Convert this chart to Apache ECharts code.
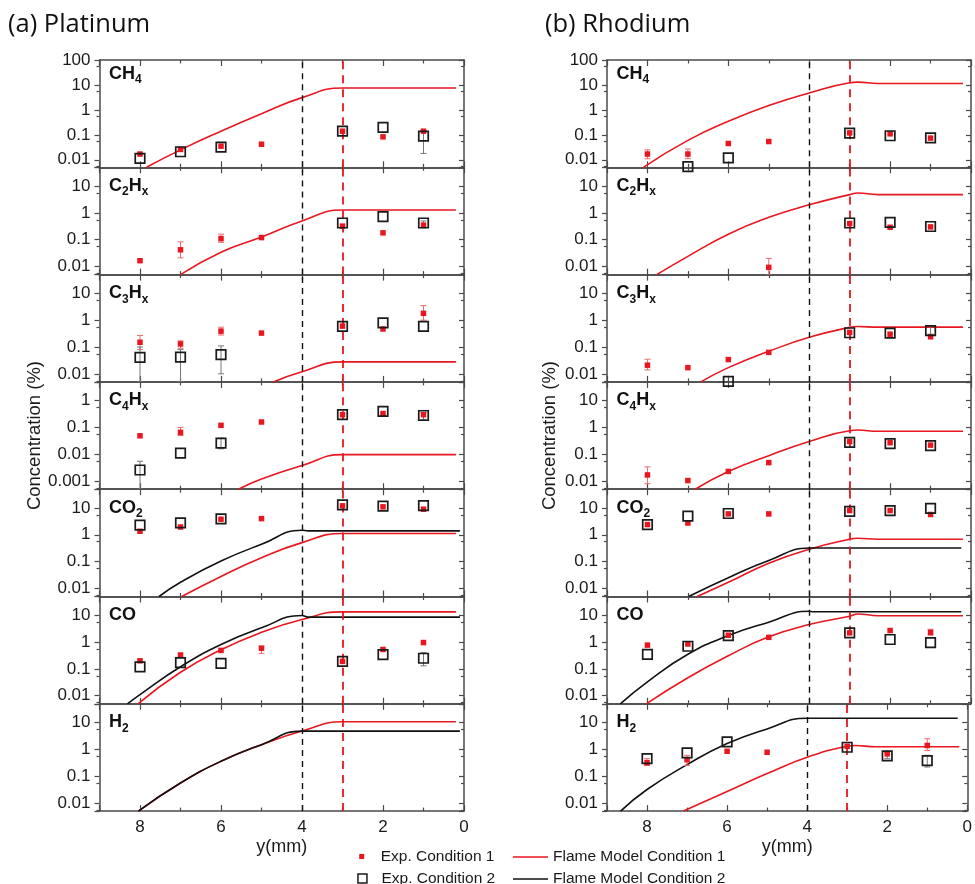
<!DOCTYPE html>
<html><head><meta charset="utf-8">
<script src="https://cdn.jsdelivr.net/npm/echarts@6/dist/echarts.min.js"></script>
<style>html,body{margin:0;padding:0;background:#fff}#c{width:975px;height:884px}</style>
</head><body><div id="c"></div>
<script>
// ---------------- DATA ----------------
const species = ['CH4', 'C2Hx', 'C3Hx', 'C4Hx', 'CO2', 'CO', 'H2'];
const speciesRich = ['{b|CH}{s|4}', '{b|C}{s|2}{b|H}{s|x}', '{b|C}{s|3}{b|H}{s|x}', '{b|C}{s|4}{b|H}{s|x}', '{b|CO}{s|2}', '{b|CO}', '{b|H}{s|2}'];
const metalTitles = ['(a) Platinum', '(b) Rhodium'];
const xPos = [8, 7, 6, 5, 3, 2, 1];           // measurement heights y (mm)
const xMin = 0, xMax = 9, xInterval = 2;
const flameEdge2 = 4, flameEdge1 = 3;          // dashed reference lines (mm)

const ptYRange = [[0.005, 100], [0.005, 50], [0.005, 50], [0.0005, 5], [0.005, 50], [0.005, 50], [0.005, 50]];
const rhYRange = [[0.005, 100], [0.005, 50], [0.005, 50], [0.005, 50], [0.005, 50], [0.005, 50], [0.005, 50]];

// Exp. condition 1 / 2 values at xPos (null = no point)
const ptExp1 = [
  [0.017, 0.026, 0.035, 0.042, 0.14, 0.083, 0.14],
  [0.0165, 0.042, 0.11, 0.12, 0.32, 0.18, 0.35],
  [0.15, 0.13, 0.39, 0.33, 0.6, 0.47, 1.8],
  [0.049, 0.066, 0.12, 0.16, 0.3, 0.33, 0.3],
  [1.35, 1.95, 3.8, 4.0, 12, 11, 9.0],
  [0.2, 0.33, 0.49, 0.59, 0.19, 0.53, 0.96],
  [null, null, null, null, null, null, null]
];
const ptExp2 = [
  [0.0115, 0.021, 0.032, null, 0.14, 0.2, 0.089],
  [null, null, null, null, 0.42, 0.72, 0.42],
  [0.041, 0.042, 0.052, null, 0.59, 0.79, 0.59],
  [0.0026, 0.011, 0.026, null, 0.30, 0.40, 0.28],
  [2.3, 2.8, 3.9, null, 13, 11.6, 12.3],
  [0.12, 0.17, 0.16, null, 0.19, 0.34, 0.25],
  [null, null, null, null, null, null, null]
];
const rhExp1 = [
  [0.017, 0.017, 0.045, 0.054, 0.12, 0.11, 0.074],
  [null, null, null, 0.0093, 0.4, 0.29, 0.3],
  [0.021, 0.017, 0.034, 0.063, 0.35, 0.3, 0.24],
  [0.017, 0.0105, 0.023, 0.049, 0.3, 0.27, 0.22],
  [2.4, 2.75, 6.0, 6.0, 8.0, 8.0, 5.7],
  [0.77, 0.85, 1.8, 1.5, 2.2, 2.7, 2.3],
  [0.32, 0.41, 0.85, 0.78, 1.3, 0.68, 1.4]
];
const rhExp2 = [
  [null, 0.0053, 0.012, null, 0.117, 0.092, 0.075],
  [null, null, null, null, 0.42, 0.44, 0.31],
  [null, null, 0.0052, null, 0.34, 0.33, 0.41],
  [null, null, null, null, 0.28, 0.25, 0.21],
  [2.4, 5.0, 6.2, null, 7.5, 8.0, 9.7],
  [0.35, 0.7, 1.75, null, 2.2, 1.25, 0.96],
  [0.45, 0.74, 1.9, null, 1.2, 0.57, 0.38]
];

// Flame model curves [y(mm), concentration]
const ptModel1 = [
  [[7.84, 0.005], [7, 0.025], [6, 0.14], [5, 0.7], [4, 3.1], [3, 7.5], [2.9, 7.5], [0.2, 7.5]],
  [[7, 0.005], [6, 0.034], [5, 0.125], [4, 0.5], [3, 1.28], [2.9, 1.28], [0.2, 1.28]],
  [[4.71, 0.005], [4, 0.012], [3, 0.028], [2.9, 0.028], [0.2, 0.028]],
  [[5.57, 0.0005], [5, 0.0012], [4, 0.0038], [3, 0.0097], [2.9, 0.0097], [0.2, 0.0097]],
  [[6.97, 0.005], [6, 0.028], [5, 0.14], [4, 0.51], [3, 1.12], [2.9, 1.12], [0.2, 1.12]],
  [[8.05, 0.005], [7, 0.075], [6, 0.52], [5, 2.3], [4, 6.9], [3, 13.4], [2.9, 13.4], [0.2, 13.4]],
  [[8.04, 0.005], [7, 0.056], [6, 0.36], [5, 1.5], [4, 4.8], [3, 10.7], [2.9, 10.7], [0.2, 10.7]]
];
const ptModel2 = [
  null, null, null, null,
  [[7.53, 0.005], [7, 0.017], [6, 0.105], [5, 0.44], [4, 1.48], [3.85, 1.4], [3.75, 1.4], [0.1, 1.4]],
  [[8.31, 0.005], [8, 0.011], [7, 0.12], [6, 0.81], [5, 3.4], [4, 9.8], [3.85, 8.5], [3.75, 8.5], [0.1, 8.5]],
  [[8.04, 0.005], [7, 0.056], [6, 0.36], [5, 1.5], [4, 4.8], [3.9, 4.8], [0.1, 4.8]]
];
const rhModel1 = [
  [[8.1, 0.005], [7, 0.06], [6, 0.35], [5, 1.5], [4, 4.8], [3, 12.2], [2.8, 13], [2.3, 11.5], [2.1, 11.5], [0.2, 11.5]],
  [[7.77, 0.005], [7, 0.024], [6, 0.16], [5, 0.68], [4, 2.0], [3, 4.8], [2.8, 5.5], [2.3, 4.8], [2.1, 4.8], [0.2, 4.8]],
  [[6.68, 0.005], [6, 0.017], [5, 0.069], [4, 0.23], [3, 0.54], [2.8, 0.58], [2.3, 0.55], [2.1, 0.55], [0.2, 0.55]],
  [[6.82, 0.005], [6, 0.023], [5, 0.089], [4, 0.3], [3, 0.76], [2.8, 0.8], [2.3, 0.72], [2.1, 0.72], [0.2, 0.72]],
  [[6.77, 0.005], [6, 0.017], [5, 0.087], [4, 0.29], [3, 0.68], [2.8, 0.74], [2.3, 0.68], [2.1, 0.68], [0.2, 0.68]],
  [[8.03, 0.005], [7, 0.047], [6, 0.31], [5, 1.57], [4, 4.5], [3, 9.2], [2.8, 11.2], [2.3, 9.6], [2.1, 9.6], [0.2, 9.6]],
  [[7.09, 0.005], [6, 0.027], [5, 0.125], [4, 0.51], [3, 1.31], [2.8, 1.4], [2.3, 1.25], [2.1, 1.25], [0.2, 1.25]]
];
const rhModel2 = [
  null, null, null, null,
  [[6.98, 0.005], [6, 0.025], [5, 0.11], [4, 0.32], [3.9, 0.32], [0.24, 0.32]],
  [[8.67, 0.005], [8, 0.033], [7, 0.35], [6, 1.75], [5, 5.5], [4, 14.1], [3.9, 13.5], [0.24, 13.5]],
  [[8.66, 0.005], [8, 0.032], [7, 0.27], [6, 1.65], [5, 5.8], [4, 14.5], [3.9, 14.5], [0.24, 14.5]]
];

// Error bars [y(mm), low, high]
const ptErr1 = [
  [], [[7, 0.021, 0.083], [6, 0.08, 0.16]],
  [[8, 0.08, 0.27], [7, 0.09, 0.17], [6, 0.28, 0.55], [1, 1.0, 3.5]],
  [[7, 0.05, 0.1]], [], [[5, 0.38, 0.7]], []
];
const ptErr2 = [
  [[1, 0.018, 0.15]], [[1, 0.28, 0.5]],
  [[8, 0.005, 0.1], [7, 0.005, 0.08], [6, 0.01, 0.11]],
  [[8, 0.0005, 0.0055], [6, 0.016, 0.04], [1, 0.2, 0.35]], [], [[1, 0.13, 0.4]], []
];
const rhErr1 = [
  [[8, 0.011, 0.025], [7, 0.011, 0.027]], [[5, 0.005, 0.02]], [[8, 0.014, 0.035]],
  [[8, 0.008, 0.034]], [], [[1, 1.8, 3.0]], [[8, 0.25, 0.45], [7, 0.25, 0.6], [1, 0.9, 2.5]]
];
const rhErr2 = [
  [], [], [[1, 0.3, 0.6]], [], [], [], [[1, 0.22, 0.6], [2, 0.45, 0.75]]
];

// ---------------- BUILD ----------------
const metals = [
  { yr: ptYRange, e1: ptExp1, e2: ptExp2, m1: ptModel1, m2: ptModel2, er1: ptErr1, er2: ptErr2 },
  { yr: rhYRange, e1: rhExp1, e2: rhExp2, m1: rhModel1, m2: rhModel2, er1: rhErr1, er2: rhErr2 }
];
const FONT = 'Liberation Sans';
const RED = '#e8161f', BLACK = '#111111', AXIS = '#4a4a4a', TXT = '#1a1a1a';
const gridLeft = [99.5, 607], gridWidth = [364.5, 364];
const top0 = 60, panelH = 107.3;

function logLabel(v) {
  const l = Math.log10(v), r = Math.round(l);
  if (Math.abs(l - r) > 1e-6) return '';
  return r >= 0 ? String(Math.pow(10, r)) : Math.pow(10, r).toFixed(-r);
}
function errRender(color) {
  return function (params, api) {
    const x = api.value(0);
    const a = api.coord([x, api.value(1)]);
    const b = api.coord([x, api.value(2)]);
    const w = 3, st = { stroke: color, lineWidth: 1 };
    return { type: 'group', children: [
      { type: 'line', shape: { x1: a[0], y1: a[1], x2: b[0], y2: b[1] }, style: st },
      { type: 'line', shape: { x1: a[0] - w, y1: a[1], x2: a[0] + w, y2: a[1] }, style: st },
      { type: 'line', shape: { x1: b[0] - w, y1: b[1], x2: b[0] + w, y2: b[1] }, style: st }
    ] };
  };
}
const pts = (vals) => xPos.map((x, i) => [x, vals[i]]).filter(p => p[1] != null);

const grids = [], xAxes = [], yAxes = [], series = [], titles = [];
metalTitles.forEach((t, c) => {
  titles.push({ text: t, left: c === 0 ? 8 : 545, top: 12, padding: 0,
    textStyle: { fontFamily: 'Open Sans', fontSize: 25.5, fontWeight: 'normal', color: '#111' } });
});
const richStyle = {
  b: { fontSize: 18, fontWeight: 'bold', fontFamily: FONT, color: '#111', lineHeight: 20, verticalAlign: 'top' },
  s: { fontSize: 12, fontWeight: 'bold', fontFamily: FONT, color: '#111', lineHeight: 14, padding: [9, 0, 0, 0], verticalAlign: 'top' }
};
const tickLine = { color: AXIS, width: 1.2 };

metals.forEach((m, c) => {
  for (let r = 0; r < 7; r++) {
    const gi = c * 7 + r;
    const top = top0 + r * panelH;
    grids.push({ left: gridLeft[c], top: top, width: gridWidth[c], height: panelH });
    const xBase = {
      gridIndex: gi, type: 'value', min: xMin, max: xMax, interval: xInterval, inverse: true,
      axisLine: { show: true, onZero: false, lineStyle: { color: AXIS, width: 1.5 } },
      axisTick: { show: true, inside: true, length: 6, lineStyle: tickLine },
      minorTick: { show: true, splitNumber: 2, length: 3.5, lineStyle: tickLine },
      splitLine: { show: false }
    };
    xAxes.push(Object.assign({}, xBase, {
      position: 'bottom',
      axisLabel: { show: r === 6, fontFamily: FONT, fontSize: 17, color: TXT, margin: 8,
        formatter: v => (v % 2 === 0 ? String(v) : '') },
      name: r === 6 ? 'y(mm)' : '', nameLocation: 'middle', nameGap: 27,
      nameTextStyle: { fontFamily: FONT, fontSize: 18, color: TXT }
    }));
    xAxes.push(Object.assign({}, xBase, { position: 'top', axisLabel: { show: false } }));
    const yr = m.yr[r];
    const yBase = {
      gridIndex: gi, type: 'log', logBase: 10, min: yr[0], max: yr[1],
      axisLine: { show: true, onZero: false, lineStyle: { color: AXIS, width: 1.5 } },
      splitLine: { show: false }
    };
    yAxes.push(Object.assign({}, yBase, {
      position: 'left',
      axisTick: { show: true, inside: false, length: 5, lineStyle: tickLine },
      minorTick: { show: true, splitNumber: 2, length: 3, lineStyle: tickLine },
      axisLabel: { fontFamily: FONT, fontSize: 17, color: TXT, margin: 9, formatter: logLabel },
      name: r === 3 ? 'Concentration (%)' : '', nameLocation: 'middle', nameGap: c === 0 ? 55 : 47.5,
      nameTextStyle: { fontFamily: FONT, fontSize: 18.5, color: TXT }
    }));
    yAxes.push(Object.assign({}, yBase, {
      position: 'right',
      axisTick: { show: true, inside: true, length: 5, lineStyle: tickLine },
      minorTick: { show: true, splitNumber: 2, length: 3, lineStyle: tickLine },
      axisLabel: { show: false }
    }));
    const ax = { xAxisIndex: gi * 2, yAxisIndex: gi * 2 };
    // model 1 (carries dashed reference lines)
    series.push(Object.assign({
      type: 'line', name: 'Flame Model Condition 1', data: m.m1[r], symbol: 'none', smooth: 0.5,
      lineStyle: { color: RED, width: 1.6 }, itemStyle: { color: RED }, clip: true, z: 2,
      markLine: { silent: true, symbol: 'none', label: { show: false }, animation: false,
        data: [
          { xAxis: flameEdge2, lineStyle: { color: BLACK, width: 1.4, type: [6, 5] } },
          { xAxis: flameEdge1, lineStyle: { color: RED, width: 1.8, type: [8, 6] } }
        ] }
    }, ax));
    if (m.m2[r]) series.push(Object.assign({
      type: 'line', name: 'Flame Model Condition 2', data: m.m2[r], symbol: 'none', smooth: 0.5,
      lineStyle: { color: BLACK, width: 1.6 }, itemStyle: { color: BLACK }, clip: true, z: 2
    }, ax));
    if (m.er1[r].length) series.push(Object.assign({
      type: 'custom', name: 'err1', data: m.er1[r], renderItem: errRender('#ec6b70'), clip: true, z: 3,
      encode: { x: 0, y: [1, 2] }
    }, ax));
    if (m.er2[r].length) series.push(Object.assign({
      type: 'custom', name: 'err2', data: m.er2[r], renderItem: errRender('#777777'), clip: true, z: 3,
      encode: { x: 0, y: [1, 2] }
    }, ax));
    series.push(Object.assign({
      type: 'scatter', name: 'Exp. Condition 1', data: pts(m.e1[r]), symbol: 'rect', symbolSize: 5.5,
      itemStyle: { color: RED, opacity: 1 }, z: 4
    }, ax));
    series.push(Object.assign({
      type: 'scatter', name: 'Exp. Condition 2', data: pts(m.e2[r]), symbol: 'rect', symbolSize: 9.5,
      itemStyle: { color: 'rgba(255,255,255,0)', borderColor: '#1a1a1a', borderWidth: 1.7, opacity: 1 }, z: 5
    }, ax));
    titles.push({ text: speciesRich[r], left: gridLeft[c] + 9.5, top: top + (r === 0 ? 5 : 9.6), padding: 0,
      textStyle: { rich: richStyle } });
  }
});

const legText = { fontFamily: FONT, fontSize: 15.5, color: TXT };
const option = {
  animation: false,
  backgroundColor: '#ffffff',
  title: titles,
  grid: grids, xAxis: xAxes, yAxis: yAxes, series: series,
  legend: [
    { data: [{ name: 'Exp. Condition 1', itemStyle: { color: RED, opacity: 1 } }], left: 359.2, top: 848.5, padding: 0, itemWidth: 5, itemHeight: 5,
      selectedMode: false, textStyle: Object.assign({ padding: [0, 0, 0, 11.5] }, legText) },
    { data: [{ name: 'Exp. Condition 2', itemStyle: { color: 'rgba(255,255,255,0)', borderColor: '#1a1a1a', borderWidth: 1.5 } }],
      left: 357.2, top: 870.5, padding: 0, itemWidth: 9, itemHeight: 9,
      selectedMode: false, textStyle: Object.assign({ padding: [0, 0, 0, 9.5] }, legText) },
    { data: [
        { name: 'Flame Model Condition 1', icon: 'rect', itemStyle: { color: RED } },
        { name: 'Flame Model Condition 2', icon: 'rect', itemStyle: { color: BLACK } }
      ], left: 513, top: 849, padding: 0, height: 80, width: 300,
      orient: 'vertical', itemWidth: 35, itemHeight: 1.6, itemGap: 6, selectedMode: false, textStyle: legText }
  ]
};
const chart = echarts.init(document.getElementById('c'), null, { renderer: 'canvas' });
chart.setOption(option);
</script>
</body></html>
